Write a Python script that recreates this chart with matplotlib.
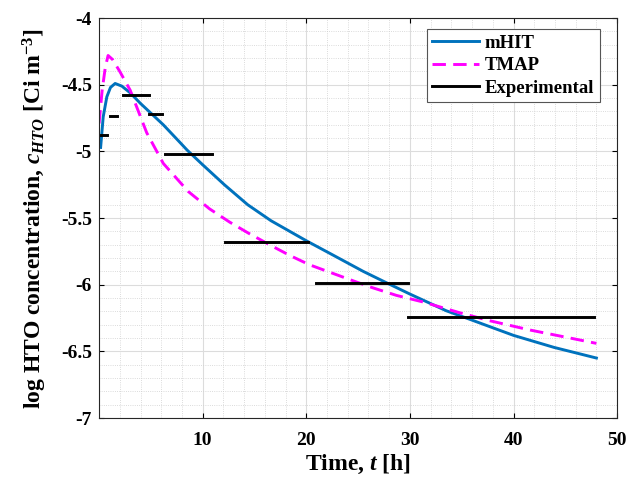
import numpy as np
import matplotlib
matplotlib.use('Agg')
import matplotlib.pyplot as plt
from matplotlib.ticker import MultipleLocator

plt.rcParams['font.family'] = 'Liberation Serif'
plt.rcParams['font.weight'] = 'bold'
plt.rcParams['axes.labelweight'] = 'bold'
plt.rcParams['mathtext.fontset'] = 'custom'
plt.rcParams['mathtext.rm'] = 'Liberation Serif:bold'
plt.rcParams['mathtext.it'] = 'Liberation Serif:bold:italic'
plt.rcParams['mathtext.bf'] = 'Liberation Serif:bold'

# mHIT model
mhit_t = [0.15, 0.4, 0.75, 1.1, 1.55, 2.2, 3, 4, 5.1, 6.2, 7.9, 8.5, 10, 12.1,
          14.35, 16.6, 20, 22.4, 25.5, 27.6, 30, 33.5, 35.8, 40, 43.9, 48]
mhit_v = [-4.97, -4.74, -4.59, -4.52, -4.49, -4.51, -4.56, -4.64, -4.72, -4.80,
          -4.94, -4.99, -5.10, -5.25, -5.40, -5.52, -5.67, -5.77, -5.90, -5.98,
          -6.07, -6.195, -6.26, -6.38, -6.47, -6.55]

# TMAP model
tmap_t = [0, 0.3, 0.6, 0.87, 1.3, 2, 3, 4.6, 6.2, 8.6, 10.65, 12.6, 14.35, 16.45,
          18.4, 20.3, 22.4, 24.5, 26.3, 28.7, 31.3, 34.8, 37.7, 41.6, 46.1, 48]
tmap_v = [-4.79, -4.54, -4.37, -4.28, -4.31, -4.40, -4.54, -4.86, -5.09, -5.30,
          -5.43, -5.53, -5.61, -5.70, -5.78, -5.85, -5.91, -5.97, -6.02, -6.08,
          -6.13, -6.21, -6.27, -6.34, -6.41, -6.44]

# experimental (time-averaged samples)
exp_t0 = [0.15, 1.06, 2.35, 4.8, 6.4, 12.2, 20.9, 29.8]
exp_t1 = [0.8, 1.77, 4.85, 6.1, 10.9, 20.2, 29.8, 47.8]
exp_v = [-4.88, -4.735, -4.58, -4.72, -5.02, -5.68, -5.99, -6.24]

fig = plt.figure(figsize=(6.31, 4.78), dpi=100)
ax = fig.add_axes([0.157, 0.1255, 0.821, 0.8365])

ax.plot(mhit_t, mhit_v, color='#0072BD', lw=2.1, label='mHIT')
ax.plot(tmap_t, tmap_v, color='#FF00FF', lw=2.1, ls=(0, (4.6, 2.5)), label='TMAP')
for i in range(len(exp_v)):
    ax.plot([exp_t0[i], exp_t1[i]], [exp_v[i], exp_v[i]], color='black', lw=2.1,
            label='Experimental' if i == 0 else None)

ax.set_xlim(0, 50)
ax.set_ylim(-7, -4)
ax.set_xticks([10, 20, 30, 40, 50])
ax.set_yticks([-7, -6.5, -6, -5.5, -5, -4.5, -4])
ax.set_yticklabels(['-7', '-6.5', '-6', '-5.5', '-5', '-4.5', '-4'])
ax.xaxis.set_minor_locator(MultipleLocator(2))
ax.yaxis.set_minor_locator(MultipleLocator(0.1))
ax.grid(True, which='major', color='#dcdcdc', lw=0.8)
ax.grid(True, which='minor', color='#cfcfcf', lw=0.6, ls=':')
ax.tick_params(which='both', direction='in', top=True, right=True, labelsize=14)
ax.tick_params(axis='x', pad=10)
ax.tick_params(axis='y', pad=5)
ax.tick_params(which='minor', length=0)
for s in ax.spines.values():
    s.set_color('#262626')
ax.set_axisbelow(True)

ax.set_xlabel('Time, $t$ [h]', fontsize=17, labelpad=3)
ax.set_ylabel('log HTO concentration, $c_{HTO}$ [Ci m$^{-3}$]', fontsize=17, labelpad=9)

leg = ax.legend(loc='upper right', fontsize=13.5, fancybox=False, framealpha=1,
                edgecolor='#555555', handlelength=2.5, borderpad=0.3,
                labelspacing=0.28, handletextpad=0.3, borderaxespad=0,
                bbox_to_anchor=(0.967, 0.9725))
leg.get_frame().set_linewidth(0.8)

fig.savefig('out.png', dpi=100)
